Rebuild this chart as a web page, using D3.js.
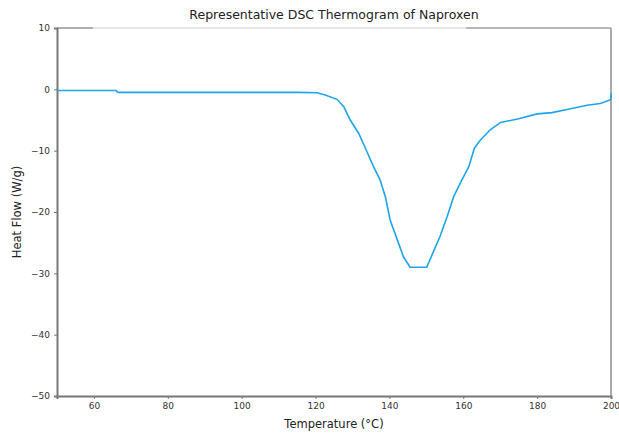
<!DOCTYPE html>
<html><head><meta charset="utf-8">
<script src="https://cdn.jsdelivr.net/npm/d3@7"></script>
<style>body{margin:0;background:#fff;} svg{display:block;font-family:"DejaVu Sans",sans-serif;}</style>
</head><body>
<svg id="c" width="619" height="437"></svg>
<script>
const temperature = [50, 60, 66, 66.5, 80, 100, 115, 120.4, 122.6, 125.8, 127.6, 129.4, 131.7, 133.5, 135.7, 137.5, 138.9, 140.2, 142.0, 143.8, 145.6, 150.1, 151.9, 153.7, 155.6, 157.4, 159.6, 161.5, 163.0, 164.6, 167.3, 170.1, 175.0, 180.0, 184.0, 188.1, 193.5, 197.1, 199.9, 200, 200];
const heatFlow =    [-0.2, -0.2, -0.2, -0.5, -0.5, -0.5, -0.5, -0.55, -0.93, -1.63, -2.8, -5.0, -7.2, -9.6, -12.6, -14.8, -17.5, -21.3, -24.3, -27.3, -29.0, -29.0, -26.5, -24.0, -20.8, -17.5, -14.8, -12.6, -9.6, -8.3, -6.6, -5.4, -4.8, -4.0, -3.8, -3.3, -2.6, -2.3, -1.7, -1.2, -0.6];
const xTicks = [60, 80, 100, 120, 140, 160, 180, 200];
const yTicks = [-50, -40, -30, -20, -10, 0, 10];
const titleText = "Representative DSC Thermogram of Naproxen";
const xLabel = "Temperature (°C)";
const yLabel = "Heat Flow (W/g)";

const svg = d3.select("#c");
const m = {l:57, r:611, t:28, b:396};
const x = d3.scaleLinear().domain([50,200]).range([m.l,m.r]);
const y = d3.scaleLinear().domain([-50,10]).range([m.b,m.t]);
const data = temperature.map((t,i)=>({t, v:heatFlow[i]}));

// spines
svg.append("line").attr("x1",m.l).attr("x2",m.r).attr("y1",m.t).attr("y2",m.t).attr("stroke","#d0d0d0").attr("stroke-width",1);
svg.append("line").attr("x1",m.l).attr("x2",m.l+36).attr("y1",m.t).attr("y2",m.t).attr("stroke","#777").attr("stroke-width",1);
svg.append("line").attr("x1",m.r-145).attr("x2",m.r).attr("y1",m.t).attr("y2",m.t).attr("stroke","#888").attr("stroke-width",1);
svg.append("line").attr("x1",m.r).attr("x2",m.r).attr("y1",m.t).attr("y2",m.b).attr("stroke","#aaa").attr("stroke-width",2);

const fmt = d => d<0 ? "\u2212"+Math.abs(d) : String(d);
const xa = svg.append("g").attr("transform",`translate(0,${m.b})`)
  .call(d3.axisBottom(x).tickValues(xTicks).tickFormat(fmt).tickSize(3).tickPadding(4));
const ya = svg.append("g").attr("transform",`translate(${m.l},0)`)
  .call(d3.axisLeft(y).tickValues(yTicks).tickFormat(fmt).tickSize(3).tickPadding(4));
[xa,ya].forEach(a=>{
  a.select(".domain").attr("stroke","#777").attr("stroke-width",2);
  a.selectAll(".tick line").attr("stroke","#777");
  a.selectAll(".tick text").attr("fill","#333").attr("font-size","9px").attr("font-family","DejaVu Sans");
});

svg.append("path").datum(data)
  .attr("d", d3.line().x(d=>x(d.t)).y(d=>y(d.v)))
  .attr("fill","none").attr("stroke","#1ea5e9").attr("stroke-width",1.6);

svg.append("text").attr("x",(m.l+m.r)/2).attr("y",19).attr("text-anchor","middle")
  .attr("font-size","12.5px").attr("fill","#222").text(titleText);
svg.append("text").attr("x",(m.l+m.r)/2).attr("y",428).attr("text-anchor","middle")
  .attr("font-size","11.5px").attr("fill","#222").text(xLabel);
svg.append("text").attr("transform",`translate(21,${(m.t+m.b)/2}) rotate(-90)`).attr("text-anchor","middle")
  .attr("font-size","11.5px").attr("fill","#222").text(yLabel);
</script>
</body></html>
